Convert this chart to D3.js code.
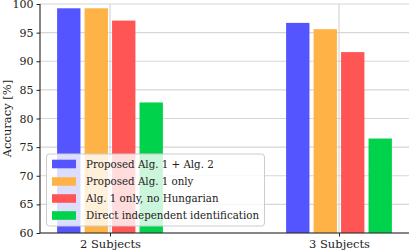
<!DOCTYPE html>
<html>
<head>
<meta charset="utf-8">
<script src="https://cdn.jsdelivr.net/npm/d3@7/dist/d3.min.js"></script>
<style>
html,body{margin:0;padding:0;background:#fff;}
svg{display:block;}
</style>
</head>
<body>
<svg id="chart" width="409" height="251"></svg>
<script>
const categories = ["2 Subjects", "3 Subjects"];
const seriesNames = ["Proposed Alg. 1 + Alg. 2", "Proposed Alg. 1 only", "Alg. 1 only, no Hungarian", "Direct independent identification"];
const seriesColors = ["#5555ff", "#ffb347", "#ff5555", "#00d24b"];
const alg12 = [99.25, 96.7];
const alg1 = [99.25, 95.6];
const alg1NoHung = [97.1, 91.6];
const direct = [82.8, 76.5];
const yTicks = [60, 65, 70, 75, 80, 85, 90, 95, 100];

const seriesValues = [alg12, alg1, alg1NoHung, direct];
const FONT = "'DejaVu Serif', serif";

const svg = d3.select("#chart");
const mLeft = 40, mRight = 409, mTop = 4, mBottom = 233;

const x = d3.scaleLinear().domain([-0.3057, 1.3057]).range([mLeft, mRight]);
const y = d3.scaleLinear().domain([60, 100]).range([mBottom, mTop]);

const offsets = [-0.18, -0.06, 0.06, 0.18];
const barW = 0.102;

// grid
const g = svg.append("g");
g.selectAll("line.hg").data(yTicks).enter().append("line")
  .attr("x1", mLeft).attr("x2", mRight)
  .attr("y1", d => y(d)).attr("y2", d => y(d))
  .attr("stroke", "#d6d6d6").attr("stroke-width", 1.2);
g.selectAll("line.vg").data(categories).enter().append("line")
  .attr("x1", (d, i) => x(i)).attr("x2", (d, i) => x(i))
  .attr("y1", mTop).attr("y2", mBottom)
  .attr("stroke", "#d6d6d6").attr("stroke-width", 1.2);

// bars
seriesValues.forEach((vals, s) => {
  svg.append("g").selectAll("rect").data(vals).enter().append("rect")
    .attr("x", (d, i) => x(i + offsets[s] - barW / 2))
    .attr("width", x(barW) - x(0))
    .attr("y", d => y(d))
    .attr("height", d => y(60) - y(d))
    .attr("fill", seriesColors[s]);
});

// axes
const yAxis = d3.axisLeft(y).tickValues(yTicks).tickSize(3.5).tickPadding(3);
const ya = svg.append("g").attr("transform", `translate(${mLeft},0)`).call(yAxis)
  .attr("font-family", FONT).attr("font-size", 11);
ya.select(".domain").attr("stroke", "#222").attr("stroke-width", 1.1).attr("d", `M0,${mBottom}V${mTop}`);
ya.selectAll(".tick line").attr("stroke", "#222");
ya.selectAll("text").attr("fill", "#222");

const xAxis = d3.axisBottom(x).tickValues([0, 1]).tickFormat((d) => categories[d]).tickSize(3.5).tickPadding(3);
const xa = svg.append("g").attr("transform", `translate(0,${mBottom})`).call(xAxis)
  .attr("font-family", FONT).attr("font-size", 11.5);
xa.select(".domain").attr("stroke", "#222").attr("stroke-width", 1.1).attr("d", `M${mLeft},0H${mRight}`);
xa.selectAll(".tick line").attr("stroke", "#222");
xa.selectAll("text").attr("fill", "#222");

// y label
svg.append("text")
  .attr("transform", `translate(11,${(mTop + mBottom) / 2}) rotate(-90)`)
  .attr("text-anchor", "middle")
  .attr("font-family", FONT).attr("font-size", 11.5).attr("fill", "#222")
  .text("Accuracy [%]");

// legend
const lg = svg.append("g");
lg.append("rect").attr("x", 46.5).attr("y", 154).attr("width", 218).attr("height", 72)
  .attr("rx", 3).attr("fill", "#fff").attr("fill-opacity", 0.8)
  .attr("stroke", "#cccccc").attr("stroke-width", 1);
const rowY = [164, 181.5, 198.5, 215.5];
seriesNames.forEach((name, i) => {
  lg.append("rect").attr("x", 52).attr("y", rowY[i] - 4.3).attr("width", 24).attr("height", 8.6)
    .attr("fill", seriesColors[i]);
  lg.append("text").attr("x", 86).attr("y", rowY[i]).attr("dy", "0.35em")
    .attr("font-family", FONT).attr("font-size", 11).attr("fill", "#222")
    .text(name);
});
// condense legend text so the longest entry spans the same width as in the reference
const lgTexts = lg.selectAll("text").nodes();
const maxW = d3.max(lgTexts, n => n.getComputedTextLength());
const k = 173 / maxW;
lgTexts.forEach(n => {
  const w = n.getComputedTextLength();
  d3.select(n).attr("textLength", w * k).attr("lengthAdjust", "spacingAndGlyphs");
});
</script>
</body>
</html>
